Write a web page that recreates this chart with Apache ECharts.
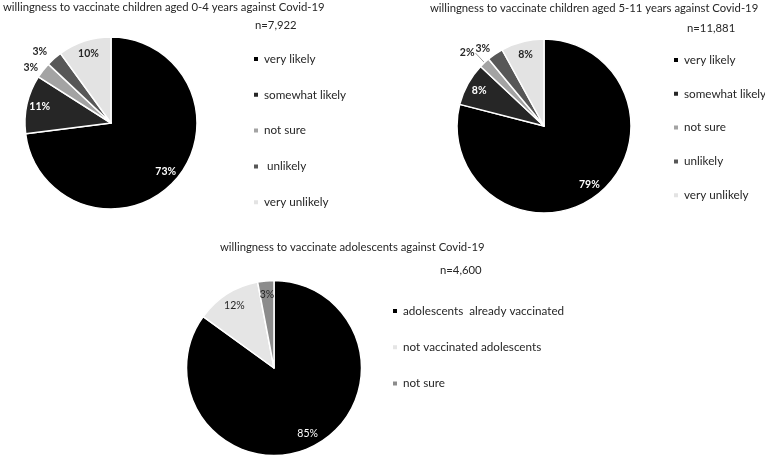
<!DOCTYPE html>
<html>
<head>
<meta charset="utf-8">
<title>willingness to vaccinate</title>
<script src="https://cdn.jsdelivr.net/npm/echarts@6/dist/echarts.min.js"></script>
<style>
  html, body { margin: 0; padding: 0; background: #fff; }
  #chart { width: 765px; height: 455px; }
</style>
</head>
<body>
<div id="chart"></div>
<script>
// categories and values (percent of respondents)
var childCats = ['very likely', 'somewhat likely', 'not sure', 'unlikely', 'very unlikely']
var kids04 = [73, 11, 3, 3, 10]
var kids511 = [79, 8, 2, 3, 8]
var teenCats = ['adolescents  already vaccinated', 'not vaccinated adolescents', 'not sure']
var teenVals = [85, 12, 3]
var sampleSizes = ['n=7,922', 'n=11,881', 'n=4,600']
var titles = [
  'willingness to vaccinate children aged 0-4 years against Covid-19',
  'willingness to vaccinate children aged 5-11 years against Covid-19',
  'willingness to vaccinate adolescents against Covid-19'
]

var childColors = ['#000000', '#262626', '#a3a3a3', '#575757', '#e3e3e3']
var teenColors = ['#000000', '#e5e5e5', '#8c8c8c']
var font = 'Lato'
var textColor = '#262626'

// label styling per slice (inside = white/dark text, outside = small slices)
var childLabels1 = [
  {color: '#fff'}, {color: '#fff'},
  {color: textColor, position: 'outside', len: 5},
  {color: textColor, position: 'outside', len: 9},
  {color: textColor}
]
var childLabels2 = [
  {color: '#fff'}, {color: '#fff'},
  {color: textColor, position: 'outside', len: 13, line: true},
  {color: textColor, position: 'outside', len: 7},
  {color: textColor}
]
var teenLabels = [
  {color: '#fff', weight: 'normal'}, {color: textColor, weight: 'normal'}, {color: textColor, weight: 'normal'}
]

function makePie (cats, vals, colors, center, r) {
  return {
    type: 'pie',
    silent: true,
    center: center,
    radius: [0, r],
    startAngle: 90,
    clockwise: true,
    label: {show: false},
    labelLine: {show: false},
    itemStyle: {borderColor: '#fff', borderWidth: 1.5},
    emphasis: {disabled: true},
    data: cats.map(function (n, i) {
      return {name: n, value: vals[i], itemStyle: {color: colors[i]}}
    })
  }
}

// transparent ring, only used to place the percent labels
function makeLabels (cats, vals, styles, center, r0, r) {
  return {
    type: 'pie',
    silent: true,
    center: center,
    radius: [r0, r],
    startAngle: 90,
    clockwise: true,
    avoidLabelOverlap: false,
    itemStyle: {color: 'rgba(0,0,0,0)', borderWidth: 0},
    emphasis: {disabled: true},
    data: cats.map(function (n, i) {
      var s = styles[i]
      return {
        name: n,
        value: vals[i],
        label: {
          show: true,
          position: s.position || 'inside',
          formatter: '{c}%',
          color: s.color,
          fontSize: 10.5,
          fontWeight: s.weight || 'bold',
          fontFamily: font,
          distanceToLabelLine: 1
        },
        labelLine: {
          show: !!s.line,
          length: s.len || 0,
          length2: 0,
          lineStyle: {color: '#9a9a9a', width: 1}
        }
      }
    })
  }
}

function makeLegend (cats, colors, left, top, gap, fmt) {
  return {
    orient: 'vertical',
    left: left,
    top: top,
    padding: 0,
    icon: 'rect',
    itemWidth: 6,
    itemHeight: 6,
    itemGap: gap,
    selectedMode: false,
    formatter: fmt,
    textStyle: {fontSize: 11.7, color: textColor, fontFamily: font},
    data: cats.map(function (n, i) {
      return {name: n, itemStyle: {color: colors[i]}}
    })
  }
}

function makeTitle (text, left, top) {
  return {
    text: text,
    left: left,
    top: top,
    padding: 0,
    textStyle: {fontSize: 11.3, fontWeight: 'normal', color: textColor, fontFamily: font}
  }
}

var chart = echarts.init(document.getElementById('chart'))
chart.setOption({
  animation: false,
  backgroundColor: '#fff',
  title: [
    makeTitle(titles[0], 3, 2),
    makeTitle(titles[1], 430, 3),
    makeTitle(titles[2], 220, 242),
    makeTitle(sampleSizes[0], 255, 20),
    makeTitle(sampleSizes[1], 687, 23),
    makeTitle(sampleSizes[2], 440, 265)
  ],
  legend: [
    makeLegend(childCats, childColors, 252, 53, 23.8, function (name) {
      return name === 'unlikely' ? ' unlikely' : name
    }),
    makeLegend(childCats, childColors, 672, 54, 21.8),
    makeLegend(teenCats, teenColors, 391, 305, 24.3)
  ],
  series: [
    makePie(childCats, kids04, childColors, [111, 123], 86),
    makeLabels(childCats, kids04, childLabels1, [111, 123], 54, 86),
    makePie(childCats, kids511, childColors, [544, 126], 87),
    makeLabels(childCats, kids511, childLabels2, [544, 126], 55, 87),
    makePie(teenCats, teenVals, teenColors, [274, 368], 87.5),
    makeLabels(teenCats, teenVals, teenLabels, [274, 368], 54.5, 87.5)
  ]
})
</script>
</body>
</html>
